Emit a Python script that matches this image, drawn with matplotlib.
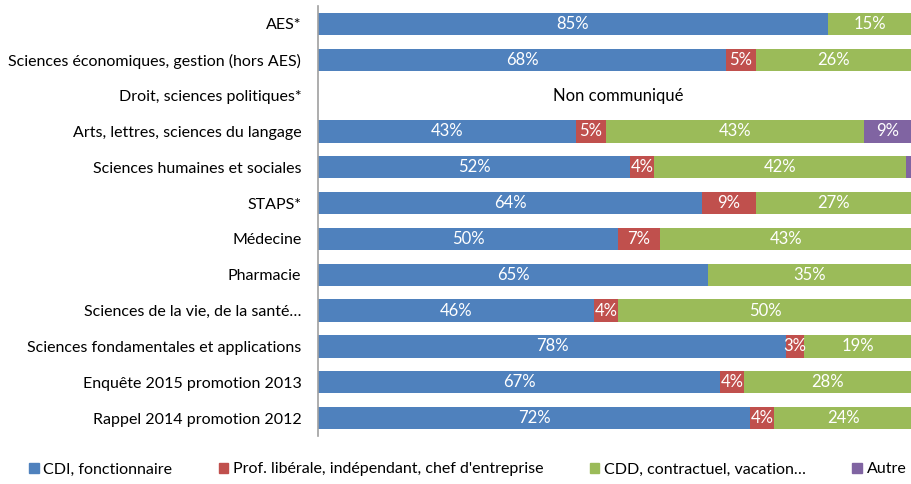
import numpy as np
import matplotlib.pyplot as plt
from matplotlib.patches import Patch

# Données (de haut en bas)
categories = [
    "AES*",
    "Sciences économiques, gestion (hors AES)",
    "Droit, sciences politiques*",
    "Arts, lettres, sciences du langage",
    "Sciences humaines et sociales",
    "STAPS*",
    "Médecine",
    "Pharmacie",
    "Sciences de la vie, de la santé…",
    "Sciences fondamentales et applications",
    "Enquête 2015 promotion 2013",
    "Rappel 2014 promotion 2012",
]
cdi = [85, 68, 0, 43, 52, 64, 50, 65, 46, 78, 67, 72]
liberal = [0, 5, 0, 5, 4, 9, 7, 0, 4, 3, 4, 4]
cdd = [15, 26, 0, 43, 42, 27, 43, 35, 50, 19, 28, 24]
autre = [0, 1, 0, 9, 2, 0, 0, 0, 0, 0, 1, 0]
# valeurs affichées (None = pas d'étiquette)
cdi_lbl = [85, 68, None, 43, 52, 64, 50, 65, 46, 78, 67, 72]
liberal_lbl = [None, 5, None, 5, 4, 9, 7, None, 4, 3, 4, 4]
cdd_lbl = [15, 26, None, 43, 42, 27, 43, 35, 50, 19, 28, 24]
autre_lbl = [None, None, None, 9, None, None, None, None, None, None, None, None]

series = [
    ("CDI, fonctionnaire", cdi, cdi_lbl, "#4F81BD"),
    ("Prof. libérale, indépendant, chef d'entreprise", liberal, liberal_lbl, "#C0504D"),
    ("CDD, contractuel, vacation…", cdd, cdd_lbl, "#9BBB59"),
    ("Autre", autre, autre_lbl, "#8064A2"),
]

plt.rcParams['font.family'] = ['Lato', 'DejaVu Sans']

fig = plt.figure(figsize=(9.12, 4.84), dpi=100)
ax = fig.add_axes([318 / 912, 48 / 484, 594 / 912, 430 / 484])

y = np.arange(len(categories))
left = np.zeros(len(categories))
for name, vals, lbls, color in series:
    vals = np.array(vals, dtype=float)
    bars = ax.barh(y, vals, left=left, height=0.62, color=color, label=name)
    texts = [f"{v}%" if v is not None else "" for v in lbls]
    ax.bar_label(bars, labels=texts, label_type='center', color='white', fontsize=12)
    left += vals

ax.text(50, 2, "Non communiqué", ha='center', va='center', fontsize=12, color='black')

ax.set_xlim(0, 99)
ax.set_ylim(-0.5, len(categories) - 0.5)
ax.invert_yaxis()
ax.set_yticks(y)
ax.set_yticklabels(categories, fontsize=11.5)
ax.tick_params(axis='y', length=0, pad=12)
ax.xaxis.set_visible(False)
for s in ['top', 'right', 'bottom']:
    ax.spines[s].set_visible(False)
ax.spines['left'].set_color('#A0A0A0')
ax.spines['left'].set_linewidth(1.2)

handles = [Patch(color=c) for _, _, _, c in series]
fig.legend(handles, [n for n, _, _, _ in series], loc='center left',
           bbox_to_anchor=(0.016, 0.03), ncol=4, frameon=False, fontsize=11.5,
           handlelength=0.6, handleheight=0.6, handletextpad=0.3, columnspacing=2.9)

fig.savefig("out.png", dpi=100)
